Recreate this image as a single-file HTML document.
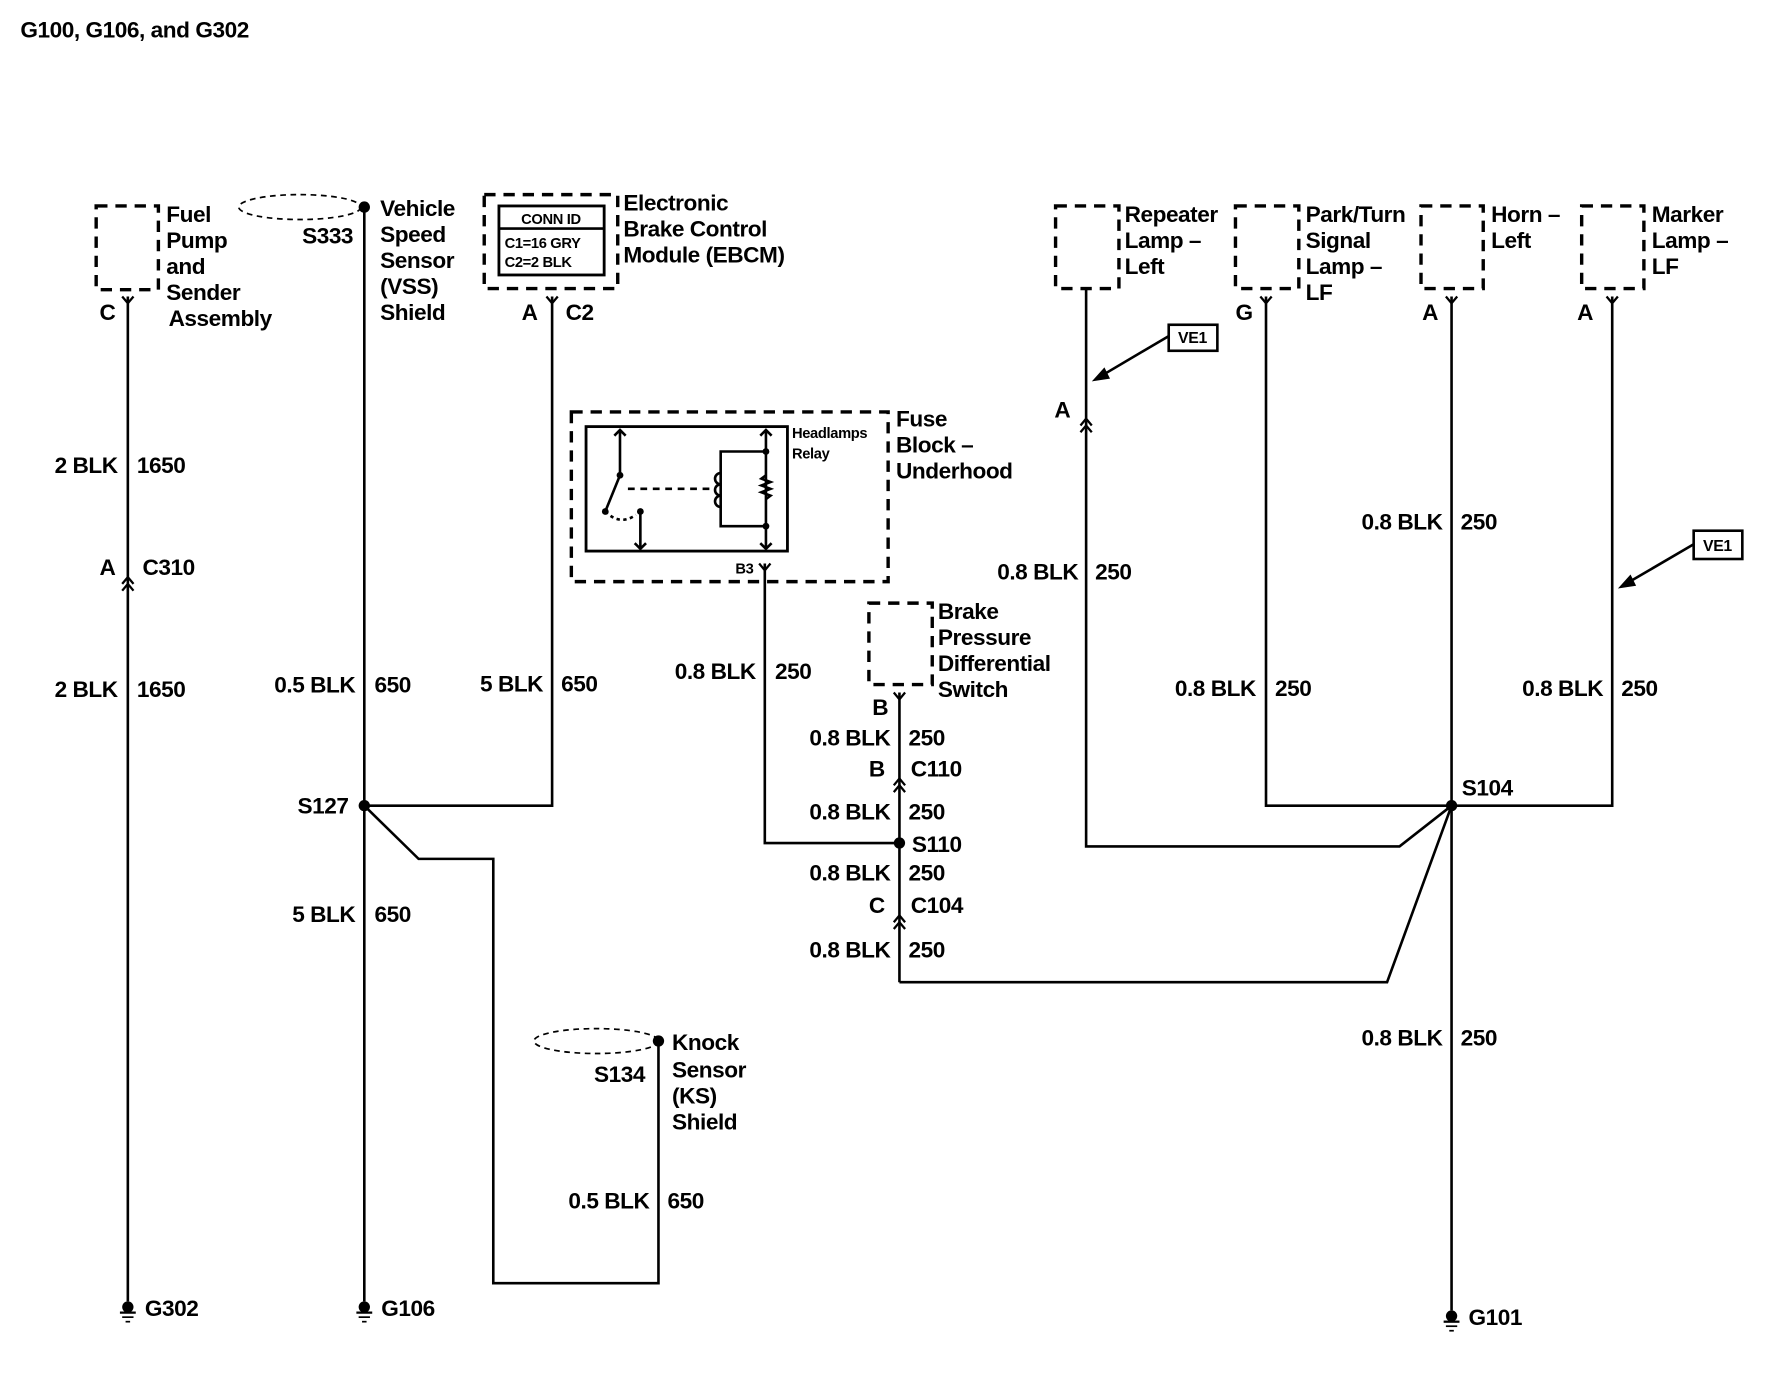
<!DOCTYPE html>
<html><head><meta charset="utf-8"><style>
html,body{margin:0;padding:0;background:#fff;}
svg{display:block;}
text{font-family:"Liberation Sans",Arial,sans-serif;font-size:20px;fill:#000;letter-spacing:-0.4px;font-weight:bold;}
.s{font-size:13px;letter-spacing:-0.3px;}
</style></head><body>
<svg width="1774" height="1376" viewBox="0 0 1568 1216" preserveAspectRatio="none" xmlns="http://www.w3.org/2000/svg">
<defs>
<g id="gnd"><circle cx="0" cy="0" r="5" fill="#000"/><line x1="-7" y1="5" x2="7" y2="5" stroke="#000" stroke-width="2"/><line x1="-5" y1="9" x2="5" y2="9" stroke="#000" stroke-width="1.5"/><line x1="-2" y1="13" x2="2" y2="13" stroke="#000" stroke-width="1.5"/></g>
<path id="yc" d="M-5,-6 L0,0 L5,-6" fill="none" stroke="#000" stroke-width="2"/>
<path id="dc" d="M-5,0 L0,-6 L5,0 M-5,6 L0,0 L5,6" fill="none" stroke="#000" stroke-width="2"/>
</defs>
<text x="18" y="33" style="font-size:20px">G100, G106, and G302</text>
<g fill="none" stroke="#000" stroke-width="2.3">
<g stroke-width="3" stroke-dasharray="10,7">
<rect x="85" y="182" width="55" height="74"/>
<rect x="428" y="172" width="118" height="83"/>
<rect x="505" y="364" width="280" height="150"/>
<rect x="768" y="533" width="56" height="72"/>
<rect x="933" y="182" width="56" height="73"/>
<rect x="1092" y="182" width="56" height="73"/>
<rect x="1256" y="182" width="55" height="73"/>
<rect x="1398" y="182" width="55" height="73"/>
</g>
<g stroke-width="1.5" stroke-dasharray="5,4">
<ellipse cx="265" cy="183" rx="54" ry="11"/>
<ellipse cx="527" cy="920" rx="55" ry="11"/>
</g>
<rect x="441" y="182" width="93" height="61" stroke-width="2.5"/>
<line x1="441" y1="202" x2="534" y2="202"/>
<rect x="518" y="377" width="178" height="110" stroke-width="2.5"/>
<path d="M548,380 V420 L535,452 M543,385 L548,380 L553,385"/>
<path d="M566,452 V485 M561,480 L566,485 L571,480"/>
<path d="M555,432 H632" stroke-dasharray="6,5"/>
<path d="M535,452 Q548,465 562,455" stroke-dasharray="3,3"/>
<path d="M677,380 V485 M672,385 L677,380 L682,385 M672,480 L677,485 L682,480"/>
<path d="M677,399 H637 V465 H677"/>
<path d="M637,418 a5,5 0 0 0 0,10 a5,5 0 0 0 0,10 a5,5 0 0 0 0,10"/>
<path d="M677,420 l-4,3 l8,3 l-8,3 l8,3 l-8,3 l8,3 l-4,3"/>
<line x1="113" y1="262" x2="113" y2="1150"/>
<line x1="322" y1="183" x2="322" y2="1150"/>
<path d="M322,712 H488 V262"/>
<path d="M322,712 L370,759 H436 V1134 H582 V920"/>
<path d="M676,498 V745 H795"/>
<line x1="795" y1="612" x2="795" y2="868"/>
<path d="M795,868 H1226 L1283,712"/>
<path d="M960,255 V748 H1237 L1283,712"/>
<path d="M1119,262 V712 H1425 V262"/>
<line x1="1283" y1="262" x2="1283" y2="1158"/>
<rect x="1033" y="287" width="43" height="23"/>
<line x1="1033" y1="297" x2="972" y2="333"/>
<rect x="1497" y="469" width="43" height="25"/>
<line x1="1497" y1="481" x2="1437" y2="516"/>
</g>
<path d="M967,336 L976,326 L980,334 Z M1432,519 L1441,509 L1445,517 Z" fill="#000" stroke="#000" stroke-width="1.5"/>
<use href="#yc" x="113" y="268"/><use href="#yc" x="488" y="268"/><use href="#yc" x="676" y="504"/>
<use href="#yc" x="795" y="618"/><use href="#yc" x="1119" y="268"/><use href="#yc" x="1283" y="268"/><use href="#yc" x="1425" y="268"/>
<use href="#dc" x="113" y="516"/><use href="#dc" x="960" y="376"/><use href="#dc" x="795" y="694"/><use href="#dc" x="795" y="815"/>
<g fill="#000">
<circle cx="322" cy="183" r="5"/><circle cx="582" cy="920" r="5"/><circle cx="322" cy="712" r="5"/>
<circle cx="795" cy="745" r="5"/><circle cx="1283" cy="712" r="5"/>
<circle cx="548" cy="420" r="3"/><circle cx="535" cy="452" r="3"/><circle cx="566" cy="452" r="3"/>
<circle cx="677" cy="399" r="3"/><circle cx="677" cy="465" r="3"/>
</g>
<use href="#gnd" x="113" y="1155"/><use href="#gnd" x="322" y="1155"/><use href="#gnd" x="1283" y="1163"/>
<text x="147" y="196">Fuel</text><text x="147" y="219">Pump</text><text x="147" y="242">and</text><text x="147" y="265">Sender</text><text x="149" y="288">Assembly</text>
<text x="88" y="283">C</text>
<text x="104" y="418" text-anchor="end">2 BLK</text><text x="121" y="418">1650</text>
<text x="88" y="508">A</text><text x="126" y="508">C310</text>
<text x="104" y="616" text-anchor="end">2 BLK</text><text x="121" y="616">1650</text>
<text x="128" y="1163">G302</text>
<text x="267" y="215">S333</text>
<text x="336" y="191">Vehicle</text><text x="336" y="214">Speed</text><text x="336" y="237">Sensor</text><text x="336" y="260">(VSS)</text><text x="336" y="283">Shield</text>
<text x="314" y="612" text-anchor="end">0.5 BLK</text><text x="331" y="612">650</text>
<text x="263" y="719">S127</text>
<text x="314" y="815" text-anchor="end">5 BLK</text><text x="331" y="815">650</text>
<text x="337" y="1163">G106</text>
<text class="s" x="487" y="198" text-anchor="middle">CONN ID</text>
<text class="s" x="446" y="219">C1=16 GRY</text><text class="s" x="446" y="236">C2=2 BLK</text>
<text x="551" y="186">Electronic</text><text x="551" y="209">Brake Control</text><text x="551" y="232">Module (EBCM)</text>
<text x="461" y="283">A</text><text x="500" y="283">C2</text>
<text x="480" y="611" text-anchor="end">5 BLK</text><text x="496" y="611">650</text>
<text class="s" x="700" y="387">Headlamps</text><text class="s" x="700" y="405">Relay</text>
<text x="792" y="377">Fuse</text><text x="792" y="400">Block –</text><text x="792" y="423">Underhood</text>
<text class="s" x="650" y="507">B3</text>
<text x="668" y="600" text-anchor="end">0.8 BLK</text><text x="685" y="600">250</text>
<text x="829" y="547">Brake</text><text x="829" y="570">Pressure</text><text x="829" y="593">Differential</text><text x="829" y="616">Switch</text>
<text x="771" y="632">B</text>
<text x="787" y="659" text-anchor="end">0.8 BLK</text><text x="803" y="659">250</text>
<text x="768" y="686">B</text><text x="805" y="686">C110</text>
<text x="787" y="724" text-anchor="end">0.8 BLK</text><text x="803" y="724">250</text>
<text x="806" y="753">S110</text>
<text x="787" y="778" text-anchor="end">0.8 BLK</text><text x="803" y="778">250</text>
<text x="768" y="807">C</text><text x="805" y="807">C104</text>
<text x="787" y="846" text-anchor="end">0.8 BLK</text><text x="803" y="846">250</text>
<text x="525" y="956">S134</text>
<text x="594" y="928">Knock</text><text x="594" y="952">Sensor</text><text x="594" y="975">(KS)</text><text x="594" y="998">Shield</text>
<text x="574" y="1068" text-anchor="end">0.5 BLK</text><text x="590" y="1068">650</text>
<text x="994" y="196">Repeater</text><text x="994" y="219">Lamp –</text><text x="994" y="242">Left</text>
<text class="s" x="1054" y="303" text-anchor="middle" style="font-size:14px">VE1</text>
<text class="s" x="1518" y="487" text-anchor="middle" style="font-size:14px">VE1</text>
<text x="932" y="369">A</text>
<text x="953" y="512" text-anchor="end">0.8 BLK</text><text x="968" y="512">250</text>
<text x="1154" y="196">Park/Turn</text><text x="1154" y="219">Signal</text><text x="1154" y="242">Lamp –</text><text x="1154" y="265">LF</text>
<text x="1092" y="283">G</text>
<text x="1110" y="615" text-anchor="end">0.8 BLK</text><text x="1127" y="615">250</text>
<text x="1318" y="196">Horn –</text><text x="1318" y="219">Left</text>
<text x="1257" y="283">A</text>
<text x="1275" y="468" text-anchor="end">0.8 BLK</text><text x="1291" y="468">250</text>
<text x="1292" y="703">S104</text>
<text x="1275" y="924" text-anchor="end">0.8 BLK</text><text x="1291" y="924">250</text>
<text x="1298" y="1171">G101</text>
<text x="1460" y="196">Marker</text><text x="1460" y="219">Lamp –</text><text x="1460" y="242">LF</text>
<text x="1394" y="283">A</text>
<text x="1417" y="615" text-anchor="end">0.8 BLK</text><text x="1433" y="615">250</text>
</svg>
</body></html>
